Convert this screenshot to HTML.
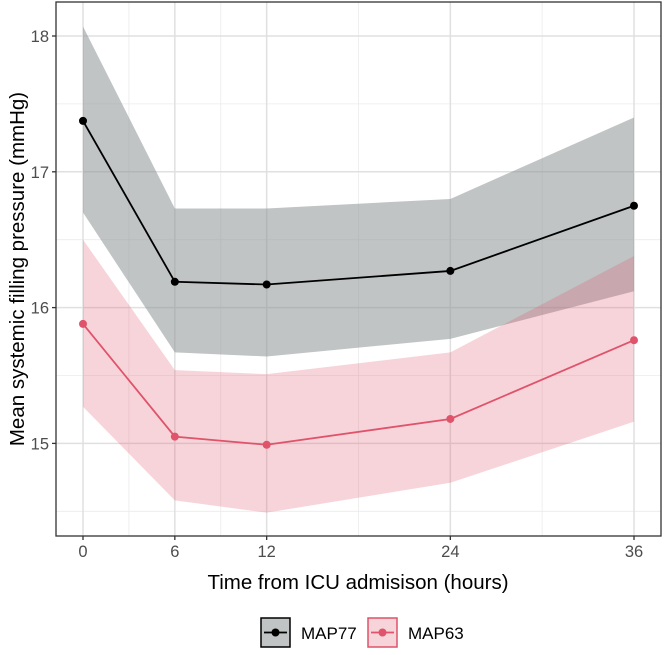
<!DOCTYPE html>
<html><head><meta charset="utf-8"><style>
body{margin:0;background:#fff;font-family:"Liberation Sans",sans-serif}
</style></head><body>
<svg id="c" width="664" height="650" xmlns="http://www.w3.org/2000/svg" font-family="Liberation Sans, sans-serif"></svg>
<script>
const hours=[0,6,12,24,36];
const map77=[17.375,16.19,16.17,16.27,16.75];
const map77Lo=[16.70,15.67,15.64,15.77,16.12];
const map77Hi=[18.07,16.73,16.73,16.80,17.40];
const map63=[15.88,15.05,14.99,15.18,15.76];
const map63Lo=[15.27,14.58,14.49,14.71,15.16];
const map63Hi=[16.50,15.54,15.51,15.67,16.38];
const yTicks=[15,16,17,18];
const yMinor=[14.5,15.5,16.5,17.5];
const xMinor=[3,9,18,30];
const NS='http://www.w3.org/2000/svg';
const svg=document.getElementById('c');
const X=h=>83+h*(634-83)/36;
const Y=v=>36+(18-v)*135.8;
function mk(t,a,p){const e=document.createElementNS(NS,t);for(const k in a)e.setAttribute(k,a[k]);(p||svg).appendChild(e);return e;}
const L=56,R=661,T=2,B=536;
mk('rect',{x:L,y:T,width:R-L,height:B-T,fill:'#fff'});
yMinor.forEach(v=>{const e=mk('line',{x1:L,x2:R,y1:Y(v),y2:Y(v),stroke:'#ebebeb','stroke-width':0.8});});
xMinor.forEach(v=>{const e=mk('line',{y1:T,y2:B,x1:X(v),x2:X(v),stroke:'#ebebeb','stroke-width':0.8});});
yTicks.forEach(v=>{const e=mk('line',{x1:L,x2:R,y1:Y(v),y2:Y(v),stroke:'#e0e0e0','stroke-width':1.5});});
hours.forEach(v=>{const e=mk('line',{y1:T,y2:B,x1:X(v),x2:X(v),stroke:'#e0e0e0','stroke-width':1.5});});
function ribbon(lo,hi,fill,op,name){let d='M'+hours.map((h,i)=>X(h)+','+Y(hi[i])).join('L');for(let i=hours.length-1;i>=0;i--)d+='L'+X(hours[i])+','+Y(lo[i]);d+='Z';const e=mk('path',{d,fill,'fill-opacity':op});}
function series(vals,col,name){const e=mk('polyline',{points:hours.map((h,i)=>X(h)+','+Y(vals[i])).join(' '),fill:'none',stroke:col,'stroke-width':1.8});
hours.forEach((h,i)=>{const c=mk('circle',{cx:X(h),cy:Y(vals[i]),r:4,fill:col});});}
ribbon(map77Lo,map77Hi,'#8c9393',0.55,'map77-ribbon');
ribbon(map63Lo,map63Hi,'#df536b',0.25,'map63-ribbon');
series(map77,'#000','map77');
series(map63,'#df536b','map63');
const fr=mk('rect',{x:L,y:T,width:R-L,height:B-T,fill:'none',stroke:'#333','stroke-width':1.3});
yTicks.forEach(v=>{mk('line',{x1:L-4,x2:L,y1:Y(v),y2:Y(v),stroke:'#333','stroke-width':1.3});const t=mk('text',{x:L-7,y:Y(v)+6,'text-anchor':'end','font-size':16.5,fill:'#4d4d4d'});t.textContent=v;});
hours.forEach(v=>{mk('line',{y1:B,y2:B+4,x1:X(v),x2:X(v),stroke:'#333','stroke-width':1.3});const t=mk('text',{x:X(v),y:B+21,'text-anchor':'middle','font-size':16.5,fill:'#4d4d4d'});t.textContent=v;});
let t=mk('text',{x:358,y:589,'text-anchor':'middle','font-size':20.5,fill:'#000'});t.textContent='Time from ICU admisison (hours)';
t=mk('text',{x:0,y:0,'text-anchor':'middle','font-size':20.5,fill:'#000',transform:'translate(24,269) rotate(-90)'});t.textContent='Mean systemic filling pressure (mmHg)';
function key(x,col,fill,op,label,name){const g=mk('g',{});
mk('rect',{x,y:618,width:29,height:29,fill:'#fff'},g);mk('rect',{x,y:618,width:29,height:29,fill,'fill-opacity':op,stroke:col,'stroke-width':1.5},g);
mk('line',{x1:x+3,x2:x+26,y1:632.5,y2:632.5,stroke:col,'stroke-width':1.8},g);mk('circle',{cx:x+14.5,cy:632.5,r:4,fill:col},g);
const tt=mk('text',{x:x+40,y:639,'font-size':17,fill:'#000'},g);tt.textContent=label;}
key(261,'#000','#8c9393',0.55,'MAP77','legend-map77');
key(368,'#df536b','#df536b',0.25,'MAP63','legend-map63');
</script>
</body></html>
